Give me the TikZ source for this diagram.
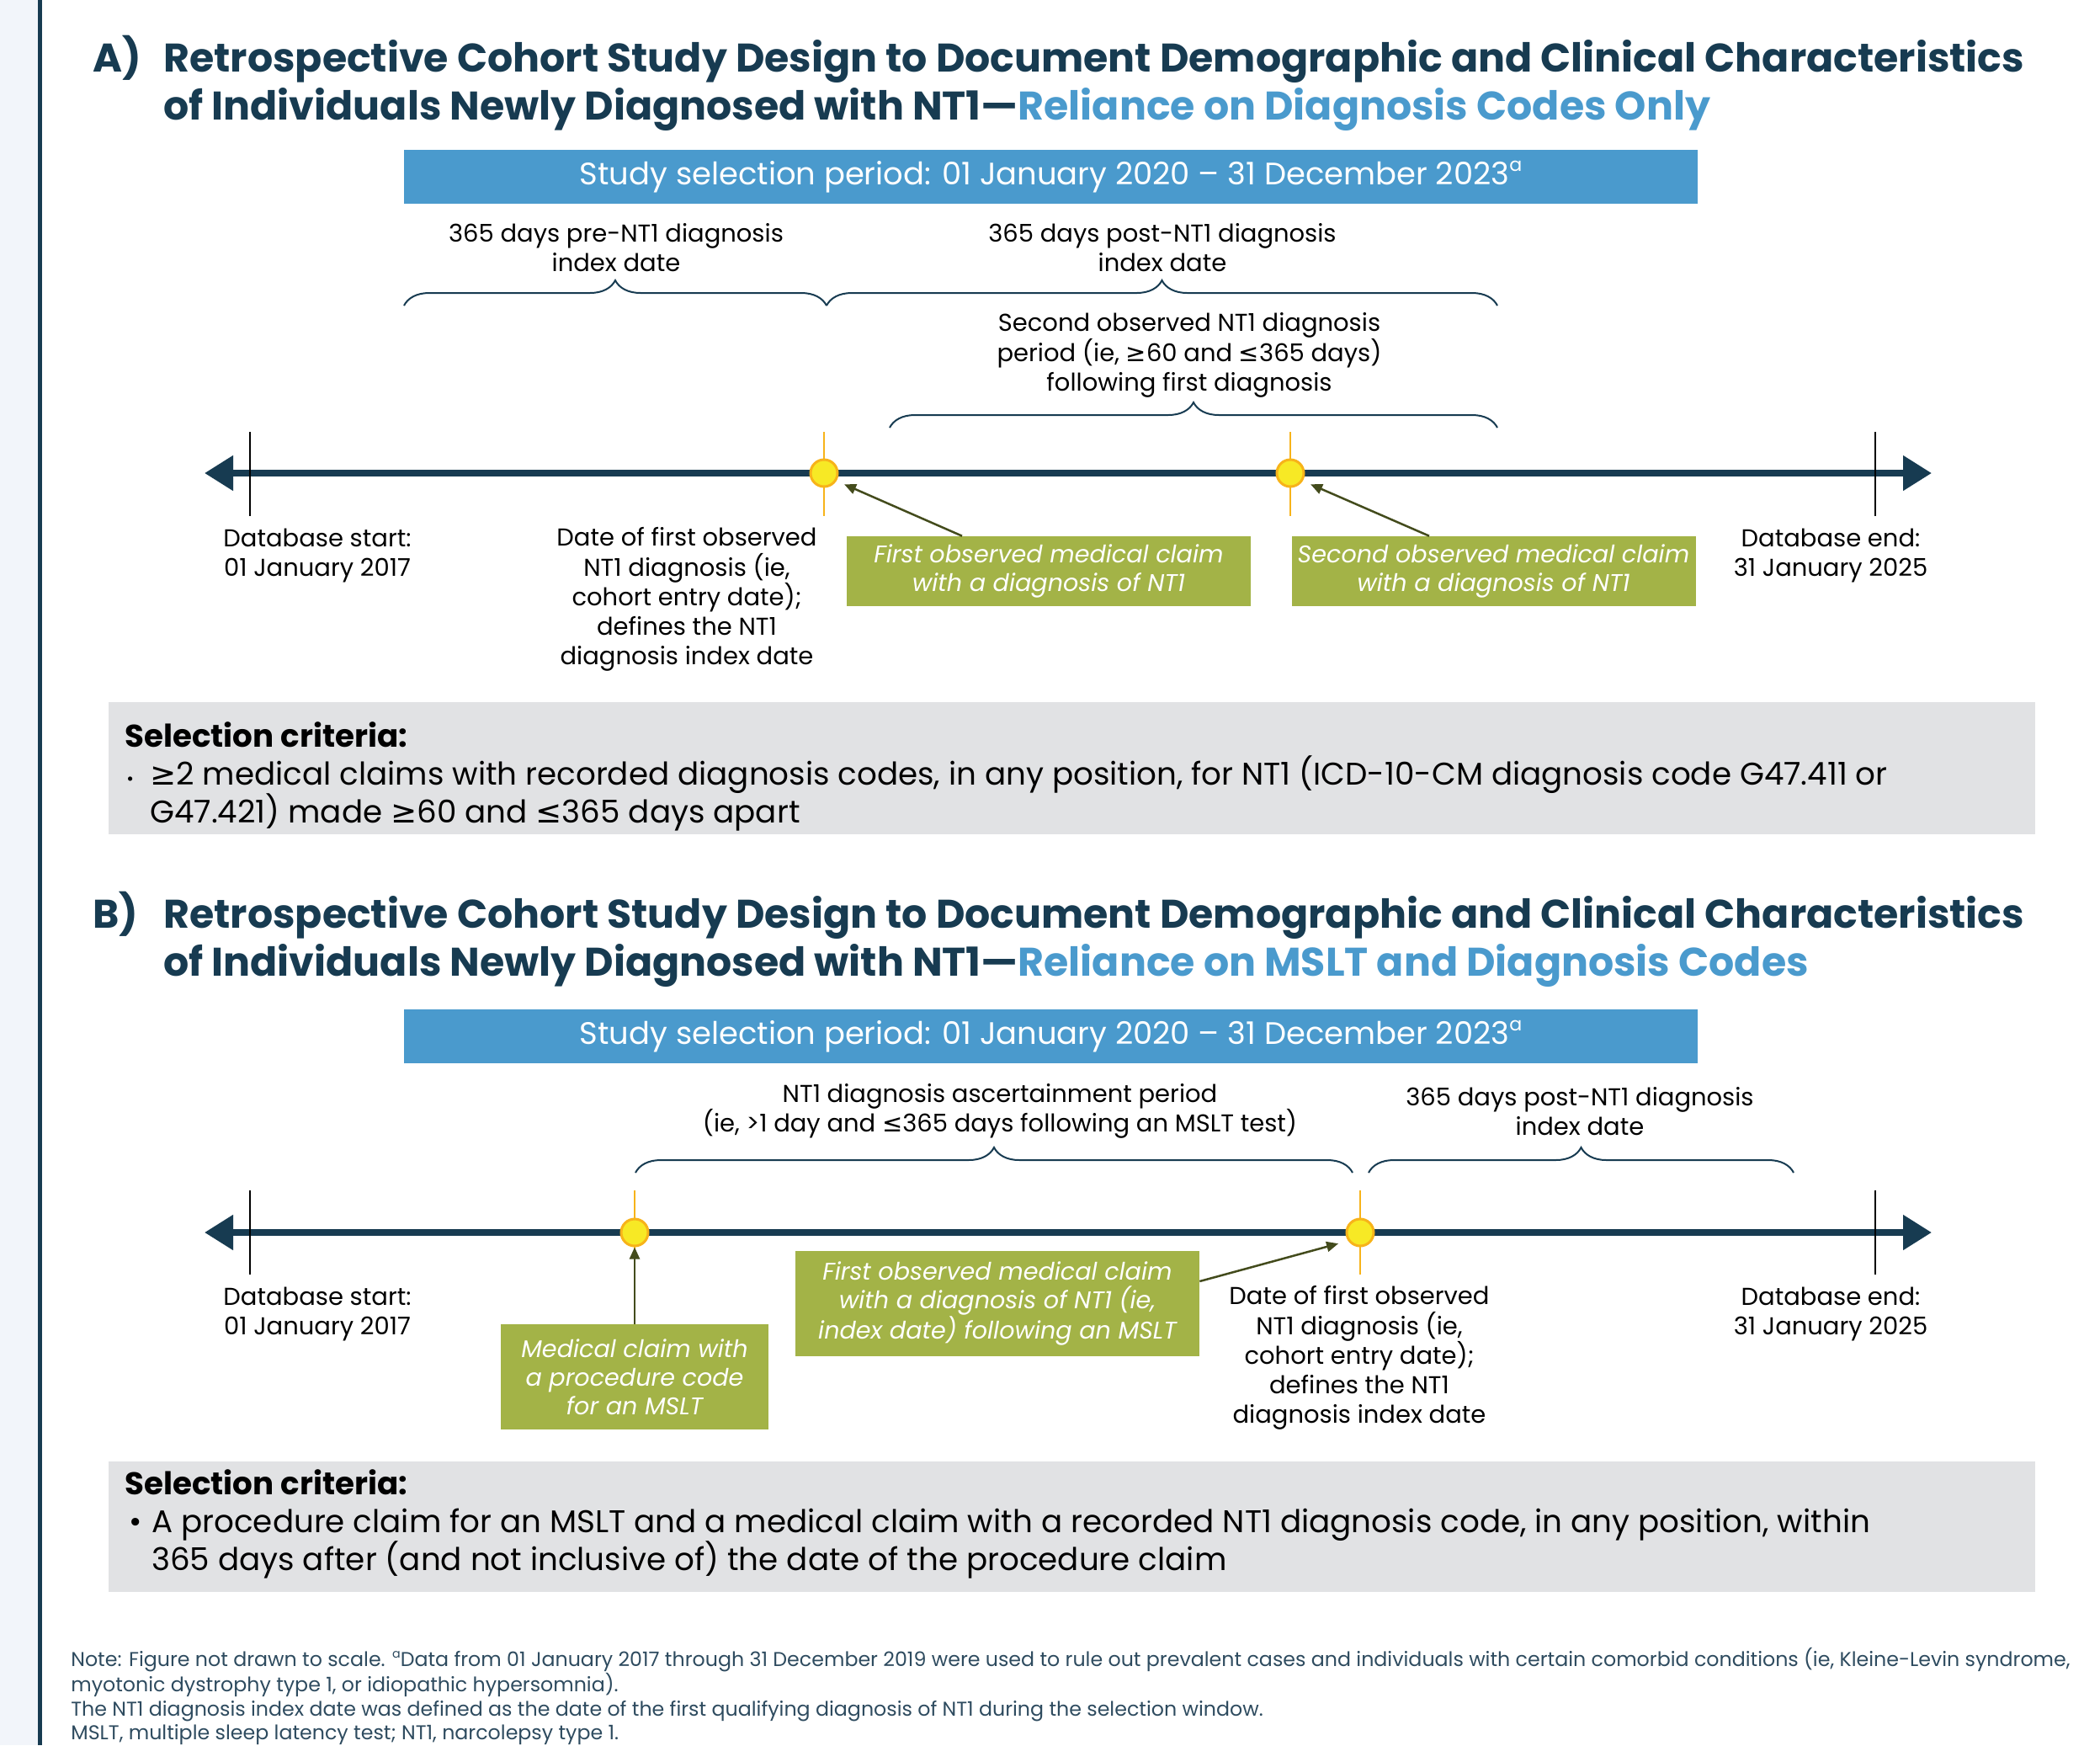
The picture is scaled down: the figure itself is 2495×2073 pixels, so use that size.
\documentclass[tikz,border=0pt]{standalone}
\usepackage{fontspec}
\setmainfont{Poppins}
\newfontfamily\symfont{DejaVu Sans}
\usetikzlibrary{arrows.meta,decorations.pathreplacing,positioning}

\definecolor{navy}{HTML}{173B51}
\definecolor{skyblue}{HTML}{4A9ACD}
\definecolor{claimgreen}{HTML}{A3B347}
\definecolor{olive}{HTML}{434B1C}
\definecolor{dotyellow}{HTML}{F7E925}
\definecolor{dotorange}{HTML}{F7B31A}
\definecolor{critgrey}{HTML}{E1E2E4}
\definecolor{sidegrey}{HTML}{F2F5FA}
\definecolor{notegrey}{HTML}{2E4B5F}

% font sizes
\newcommand{\titlesize}{\fontsize{27}{32}\selectfont}
\newcommand{\bannersize}{\fontsize{21}{24}\selectfont}
\newcommand{\lblsize}{\fontsize{16.5}{20}\selectfont}
\newcommand{\claimsize}{\fontsize{16.3}{19.5}\selectfont}
\newcommand{\critsize}{\fontsize{21.2}{25.6}\selectfont}
\newcommand{\notesize}{\fontsize{13.5}{16.2}\selectfont}

\newcommand{\geqs}{{\symfont ≥}}
\newcommand{\leqs}{{\symfont ≤}}
\newcommand{\supa}{\raisebox{0.8ex}{\scalebox{0.6}{a}}}

\tikzset{
  datetext/.style={font=\lblsize, align=center, inner sep=0pt, text=black},
  claim/.style={fill=claimgreen, text=white, font=\claimsize\itshape, align=center, inner sep=0pt},
  banner/.style={fill=skyblue, text=white, font=\bannersize, minimum width=307.4mm, minimum height=12.8mm, inner sep=0pt},
  heading/.style={anchor=base west, font=\titlesize\bfseries, text=navy, inner sep=0pt},
  period/.style={decorate, decoration={brace, amplitude=6mm}, draw=navy, line width=0.4mm},
  timeline/.style={{Triangle[length=6.8mm,width=8mm]}-{Triangle[length=6.8mm,width=8mm]}, draw=navy, line width=1.6mm},
  endtick/.style={draw=black, line width=0.45mm},
  dotline/.style={draw=dotorange, line width=0.35mm},
  eventdot/.style={circle, fill=dotyellow, draw=dotorange, line width=0.6mm, minimum size=6.4mm, inner sep=0pt},
  pointer/.style={-{Triangle[length=2.8mm,width=2.4mm]}, draw=olive, line width=0.5mm},
  criteria/.style={anchor=north west, font=\critsize, align=left, inner sep=0pt, text=black}
}

\begin{document}
\begin{tikzpicture}[x=0.2mm, y=-0.2mm]
\useasboundingbox (0,0) rectangle (2495,2073);

% side strip
\fill[sidegrey] (0,0) rectangle (45,2073);
\fill[navy] (45,0) rectangle (50,2073);

%%%%% panel A
\node[heading] (tagA) at (110,85) {A)};
\node[heading] (titleA1) at (194,85) {Retrospective Cohort Study Design to Document Demographic and Clinical Characteristics};
\node[heading] (titleA2) at (194,142) {of Individuals Newly Diagnosed with NT1—\textcolor{skyblue}{Reliance on Diagnosis Codes Only}};

\node[banner] (bannerA) at (1248.5,210) {Study selection period: 01 January 2020 – 31 December 2023\supa};

\node[datetext] (preA) at (732,294) {365 days pre-NT1 diagnosis\\index date};
\node[datetext] (postA) at (1381,294) {365 days post-NT1 diagnosis\\index date};
\node[datetext] (secondA) at (1413,422) {Second observed NT1 diagnosis\\period (ie, \geqs60 and \leqs365 days)\\following first diagnosis};

\draw[period] (480,363) -- (982,363);
\draw[period] (982,363) -- (1779,363);
\draw[period] (1057,508) -- (1779,508);

% timeline
\coordinate (startA) at (243,562);
\coordinate (endA) at (2295,562);
\draw[timeline] (startA) -- (endA);
\draw[endtick] (297,513) -- (297,613);
\draw[endtick] (2228,513) -- (2228,613);

\draw[dotline] (979,513) -- (979,613);
\node[eventdot] (firstA) at (979,562) {};
\draw[dotline] (1533,513) -- (1533,613);
\node[eventdot] (secA) at (1533,562) {};

\node[datetext] (dbstartA) at (377,660) {Database start:\\01 January 2017};
\node[datetext] (dbendA) at (2175,660) {Database end:\\31 January 2025};
\node[datetext] (indexA) at (816,712) {Date of first observed\\NT1 diagnosis (ie,\\cohort entry date);\\defines the NT1\\diagnosis index date};

\node[claim, minimum width=96mm, minimum height=16.6mm] (claimA1) at (1246,678.5) {First observed medical claim\\with a diagnosis of NT1};
\node[claim, minimum width=96mm, minimum height=16.6mm] (claimA2) at (1774.5,678.5) {Second observed medical claim\\with a diagnosis of NT1};

\draw[pointer, shorten >=2mm] ([xshift=-20.6mm]claimA1.north) -- (firstA.-32);
\draw[pointer, shorten >=2mm] ([xshift=-15.3mm]claimA2.north) -- (secA.-32);

\fill[critgrey] (129,834) rectangle (2418,991);
\node[criteria] (critA) at (148,857) {\textbf{Selection criteria:}\\
  \makebox[6mm][l]{\hspace{0.4mm}{\fontsize{12}{12}\selectfont\textbullet}}\geqs2 medical claims with recorded diagnosis codes, in any position, for NT1 (ICD-10-CM diagnosis code G47.411 or\\
  \hspace*{6mm}G47.421) made \geqs60 and \leqs365 days apart};

%%%%% panel B
\node[heading] (tagB) at (110,1102) {B)};
\node[heading] (titleB1) at (194,1102) {Retrospective Cohort Study Design to Document Demographic and Clinical Characteristics};
\node[heading] (titleB2) at (194,1159) {of Individuals Newly Diagnosed with NT1—\textcolor{skyblue}{Reliance on MSLT and Diagnosis Codes}};

\node[banner] (bannerB) at (1248.5,1231) {Study selection period: 01 January 2020 – 31 December 2023\supa};

\node[datetext] (ascertB) at (1188,1320) {NT1 diagnosis ascertainment period\\(ie, >1 day and \leqs365 days following an MSLT test)};
\node[datetext] (postB) at (1877,1320) {365 days post-NT1 diagnosis\\index date};

\draw[period] (755,1393) -- (1607,1393);
\draw[period] (1626,1393) -- (2131,1393);

% timeline
\coordinate (startB) at (243,1464);
\coordinate (endB) at (2295,1464);
\draw[timeline] (startB) -- (endB);
\draw[endtick] (297,1414) -- (297,1514);
\draw[endtick] (2228,1414) -- (2228,1514);

\draw[dotline] (754,1414) -- (754,1514);
\node[eventdot] (msltB) at (754,1464) {};
\draw[dotline] (1616,1414) -- (1616,1514);
\node[eventdot] (firstB) at (1616,1464) {};

\node[datetext] (dbstartB) at (377,1561) {Database start:\\01 January 2017};
\node[datetext] (dbendB) at (2175,1561) {Database end:\\31 January 2025};
\node[datetext] (indexB) at (1615,1613) {Date of first observed\\NT1 diagnosis (ie,\\cohort entry date);\\defines the NT1\\diagnosis index date};

\node[claim, minimum width=63.6mm, minimum height=25mm] (claimB1) at (754,1635.5) {Medical claim with\\a procedure code\\for an MSLT};
\node[claim, minimum width=96mm, minimum height=25mm] (claimB2) at (1185,1548.5) {First observed medical claim\\with a diagnosis of NT1 (ie,\\index date) following an MSLT};

\draw[pointer] (claimB1.north) -- (msltB.south);
\draw[pointer, shorten >=2.4mm] ([yshift=5.3mm]claimB2.east) -- (firstB.215);

\fill[critgrey] (129,1736) rectangle (2418,1891);
\node[criteria] (critB) at (148,1745) {\textbf{Selection criteria:}\\
  \makebox[6.4mm][l]{\hspace{1mm}\textbullet}A procedure claim for an MSLT and a medical claim with a recorded NT1 diagnosis code, in any position, within\\
  \hspace*{6.4mm}365 days after (and not inclusive of) the date of the procedure claim};

% footnote
\node[anchor=north west, font=\notesize, text=notegrey, align=left, inner sep=0pt] (note) at (84,1957) {Note: Figure not drawn to scale. \supa Data from 01 January 2017 through 31 December 2019 were used to rule out prevalent cases and individuals with certain comorbid conditions (ie, Kleine-Levin syndrome,\\
myotonic dystrophy type 1, or idiopathic hypersomnia).\\
The NT1 diagnosis index date was defined as the date of the first qualifying diagnosis of NT1 during the selection window.\\
MSLT, multiple sleep latency test; NT1, narcolepsy type 1.};
\end{tikzpicture}
\end{document}
